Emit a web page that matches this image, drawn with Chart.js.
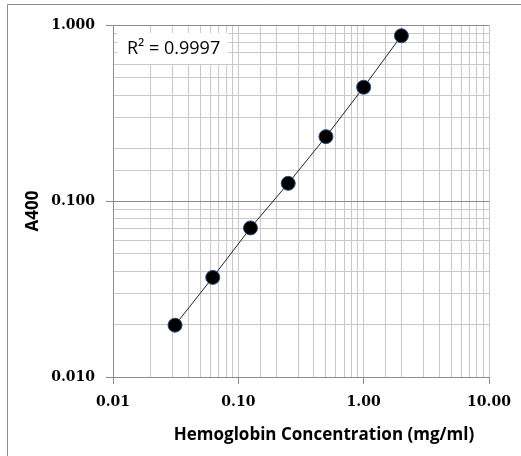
<!DOCTYPE html>
<html lang="en">
<head>
    <meta charset="UTF-8">
    <title>Hemoglobin standard curve</title>
    <script src="https://cdn.jsdelivr.net/npm/chart.js"></script>
    <style>
        body { margin: 0; background: #fff; }
        .wrap { position: relative; width: 521px; height: 456px; }
    </style>
</head>
<body>
    <div class="wrap">
        <canvas id="curveChart" width="521" height="456"></canvas>
    </div>

    <script>
        // data
        const concentrations = [0.03125, 0.0625, 0.125, 0.25, 0.5, 1, 2];
        const absorbance = [0.0197, 0.0368, 0.0703, 0.126, 0.232, 0.443, 0.869];
        const xTicks = [0.01, 0.1, 1, 10];
        const yTicks = [0.01, 0.1, 1];
        const xTitle = 'Hemoglobin Concentration (mg/ml)';
        const yTitle = 'A400';
        const r2Label = 'R² = 0.9997';

        const points = concentrations.map((x, i) => ({ x: x, y: absorbance[i] }));

        function isDecade(v, list) {
            return list.some(t => Math.abs(Math.log10(v) - Math.log10(t)) < 1e-6);
        }

        // outer frame, axis titles (Excel places them a bit off-centre) and the R² box
        const extras = {
            id: 'extras',
            beforeDraw(chart) {
                const ctx = chart.ctx;
                ctx.save();
                ctx.strokeStyle = '#8c8c8c';
                ctx.lineWidth = 1;
                ctx.beginPath();
                ctx.moveTo(7.5, 456);
                ctx.lineTo(7.5, 4.5);
                ctx.lineTo(521, 4.5);
                ctx.stroke();
                ctx.restore();
            },
            afterDraw(chart) {
                const ctx = chart.ctx;
                const a = chart.chartArea;
                ctx.save();
                ctx.fillStyle = '#000';
                ctx.font = 'bold 17px "Open Sans", sans-serif';
                ctx.textAlign = 'center';
                ctx.textBaseline = 'middle';
                ctx.fillText(xTitle, (a.left + a.right) / 2 + 23, a.bottom + 58);
                ctx.translate(a.left - 80, (a.top + a.bottom) / 2 + 10);
                ctx.rotate(-Math.PI / 2);
                ctx.fillText(yTitle, 0, 0);
                ctx.restore();
            },
            afterDatasetsDraw(chart) {
                const ctx = chart.ctx;
                const a = chart.chartArea;
                ctx.save();
                ctx.font = '18px "Open Sans", sans-serif';
                const w = ctx.measureText(r2Label).width;
                const bx = a.left + 4, by = a.top + 8;
                ctx.fillStyle = '#fff';
                ctx.fillRect(bx, by, w + 18, 31);
                ctx.fillStyle = '#000';
                ctx.textBaseline = 'middle';
                ctx.fillText(r2Label, bx + 10, by + 16);
                ctx.restore();
            }
        };

        new Chart(document.getElementById('curveChart'), {
            type: 'scatter',
            data: {
                datasets: [{
                    data: points,
                    showLine: true,
                    borderColor: '#222',
                    borderWidth: 1,
                    pointBackgroundColor: '#000',
                    pointBorderColor: '#2a4d80',
                    pointBorderWidth: 1,
                    pointRadius: 7,
                    pointHoverRadius: 7
                }]
            },
            options: {
                responsive: false,
                animation: false,
                layout: { padding: { left: 0, top: 25, right: 32, bottom: 0 } },
                plugins: {
                    legend: { display: false },
                    tooltip: { enabled: false }
                },
                scales: {
                    x: {
                        type: 'logarithmic',
                        min: xTicks[0],
                        max: xTicks[xTicks.length - 1],
                        afterFit(scale) { scale.height = 79; },
                        border: { color: '#8c8c8c' },
                        grid: {
                            color: '#c8c8c8',
                            tickLength: 7,
                            tickColor: c => isDecade(c.tick.value, xTicks) ? '#8c8c8c' : 'rgba(0,0,0,0)'
                        },
                        ticks: {
                            autoSkip: false,
                            maxRotation: 0,
                            padding: 10,
                            color: '#000',
                            font: { family: '"DejaVu Serif", serif', size: 14, weight: 'bold' },
                            callback: v => isDecade(v, xTicks) ? Number(v).toFixed(2) : ''
                        }
                    },
                    y: {
                        type: 'logarithmic',
                        min: yTicks[0],
                        max: yTicks[yTicks.length - 1],
                        afterFit(scale) { scale.width = 113; },
                        border: { color: '#8c8c8c' },
                        grid: {
                            color: c => isDecade(c.tick.value, yTicks) ? '#8c8c8c' : '#c8c8c8',
                            tickLength: 7,
                            tickColor: c => isDecade(c.tick.value, yTicks) ? '#8c8c8c' : 'rgba(0,0,0,0)'
                        },
                        ticks: {
                            autoSkip: false,
                            padding: 11,
                            color: '#000',
                            font: { family: '"DejaVu Serif", serif', size: 14, weight: 'bold' },
                            callback: v => isDecade(v, yTicks) ? Number(v).toFixed(3) : ''
                        }
                    }
                }
            },
            plugins: [extras]
        });
    </script>
</body>
</html>
